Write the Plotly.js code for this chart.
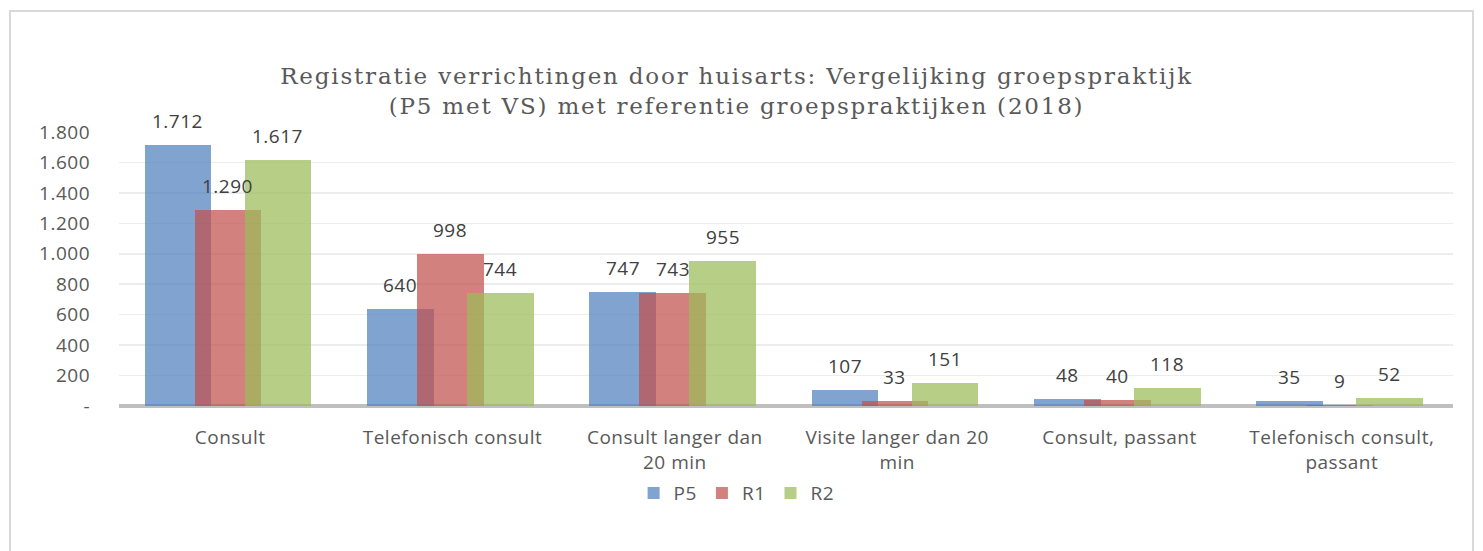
<!DOCTYPE html>
<html>
<head>
<meta charset="utf-8">
<script src="https://cdn.plot.ly/plotly-3.0.1.min.js"></script>
<style>
  html, body { margin: 0; padding: 0; background: #fff; }
  #chart { width: 1483px; height: 551px; position: absolute; left: 0; top: 0; }
  #frame { position: absolute; left: 9px; top: 10px; width: 1465px; height: 560px;
           border: 2px solid #D9D9D9; pointer-events: none; box-sizing: border-box; }
  .gtitle { letter-spacing: 1.8px; }
  .xtick text, .ytick text, .legendtext, .annotation-text { letter-spacing: 0.5px; }
</style>
</head>
<body>
<div id="chart"></div>
<div id="frame"></div>
<script>
const categories = [
  "Consult",
  "Telefonisch consult",
  "Consult langer dan<br>20 min",
  "Visite langer dan 20<br>min",
  "Consult, passant",
  "Telefonisch consult,<br>passant"
];
const seriesNames = ["P5", "R1", "R2"];
const P5 = [1712, 640, 747, 107, 48, 35];
const R1 = [1290, 998, 743, 33, 40, 9];
const R2 = [1617, 744, 955, 151, 118, 52];
const yTickVals = [0, 200, 400, 600, 800, 1000, 1200, 1400, 1600, 1800];
const yTickText = ["-", "200", "400", "600", "800", "1.000", "1.200", "1.400", "1.600", "1.800"];
const titleText = "Registratie verrichtingen door huisarts: Vergelijking groepspraktijk<br>(P5 met VS) met referentie groepspraktijken (2018)";

const colors = ["rgba(79,129,189,0.72)", "rgba(192,80,77,0.72)", "rgba(155,187,89,0.72)"];
const offsets = [-0.385, -0.16, 0.065];
const barWidth = 0.3;
const values = [P5, R1, R2];
const font = "Open Sans, sans-serif";

const traces = values.map((v, i) => ({
  type: "bar",
  name: seriesNames[i],
  x: categories,
  y: v,
  offset: offsets[i],
  width: barWidth,
  marker: { color: colors[i], line: { width: 0 } },
  cliponaxis: false,
  hoverinfo: "none"
}));

// data labels placed at each bar's own category position and value
const annotations = [];
values.forEach((v, i) => {
  v.forEach((val, j) => {
    annotations.push({
      xref: "x", yref: "y",
      x: j + offsets[i] + barWidth / 2,
      y: val,
      text: val.toLocaleString("de-DE"),
      showarrow: false,
      xanchor: "center", yanchor: "bottom",
      yshift: 9,
      font: { family: font, size: 19, color: "#404040" }
    });
  });
});

const layout = {
  width: 1483, height: 551,
  paper_bgcolor: "rgba(0,0,0,0)",
  plot_bgcolor: "rgba(0,0,0,0)",
  margin: { l: 119, r: 30, t: 132, b: 145, autoexpand: false },
  barmode: "overlay",
  separators: ",.",
  showlegend: true,
  annotations: annotations,
  title: {
    text: titleText,
    font: { family: "DejaVu Serif, serif", size: 23, color: "#595959" },
    x: 0.4967, xref: "container", xanchor: "center",
    y: 0.848, yref: "container", yanchor: "middle"
  },
  xaxis: {
    type: "category",
    showgrid: false,
    showline: false,
    ticks: "",
    automargin: false,
    ticklabelstandoff: 18,
    tickfont: { family: font, size: 19, color: "#595959" },
    fixedrange: true
  },
  yaxis: {
    range: [0, 1800],
    tickvals: yTickVals,
    ticktext: yTickText,
    showgrid: true,
    gridcolor: "#EDEDED",
    gridwidth: 1.5,
    zeroline: true,
    zerolinecolor: "#BFBFBF",
    zerolinewidth: 4,
    showline: false,
    ticks: "",
    automargin: false,
    ticklabelstandoff: 28,
    tickfont: { family: font, size: 19, color: "#595959" },
    fixedrange: true
  },
  legend: {
    orientation: "h",
    x: 0.4967, xref: "container", xanchor: "center",
    y: 0.105, yref: "container", yanchor: "middle",
    font: { family: font, size: 19, color: "#595959" },
    itemwidth: 30,
    traceorder: "normal"
  },
  bargap: 0
};

Plotly.newPlot("chart", traces, layout, { displayModeBar: false, staticPlot: true });
</script>
</body>
</html>
